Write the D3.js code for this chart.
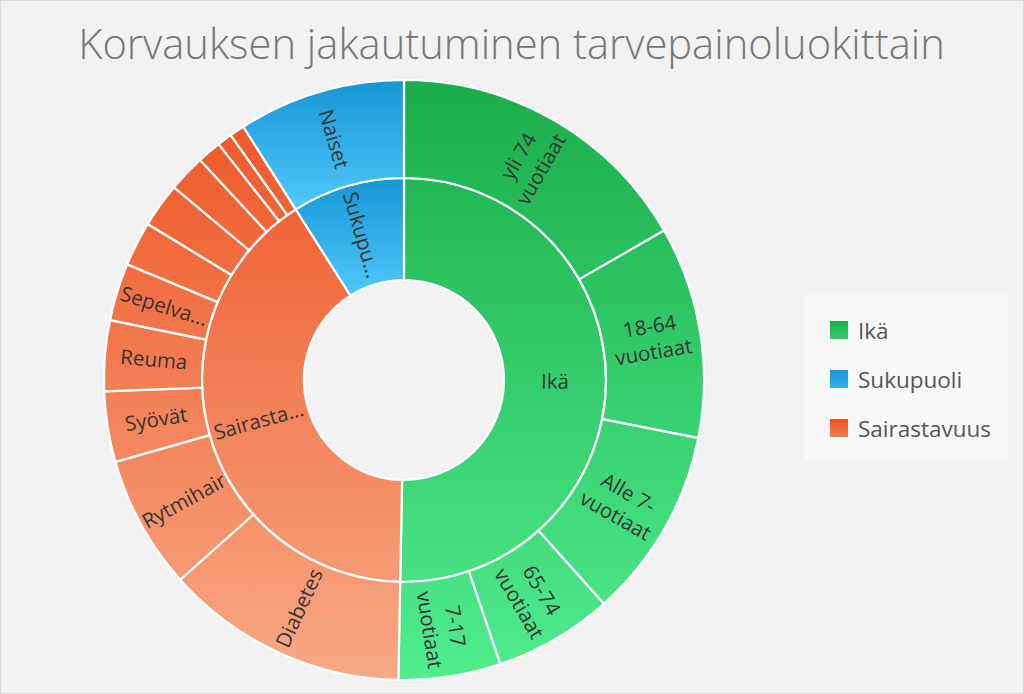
<!DOCTYPE html>
<html>
<head>
<meta charset="utf-8">
<script src="https://cdn.jsdelivr.net/npm/d3@7"></script>
<style>
  html, body { margin: 0; padding: 0; background: #f2f2f2; }
  svg { display: block; }
</style>
</head>
<body>
<svg id="chart" width="1024" height="694"></svg>
<script>
// ---- data ----
const titleText = "Korvauksen jakautuminen tarvepainoluokittain";
const categories = ["Ikä", "Sukupuoli", "Sairastavuus"];

const ikaNames  = ["yli 74 vuotiaat", "18-64 vuotiaat", "Alle 7-vuotiaat", "65-74 vuotiaat", "7-17 vuotiaat"];
const ikaValues = [16.7, 11.4, 10.3, 6.4, 5.5];

const sukupuoliNames  = ["Naiset"];
const sukupuoliValues = [9.0];

const sairasNames  = ["Diabetes", "Rytmihair", "Syövät", "Reuma", "Sepelvaltimotauti",
                      "Astma", "Epilepsia", "Psykoosit", "Parkinsonin tauti", "MS-tauti", "Glaukooma"];
const sairasValues = [13.1, 7.2, 3.8, 3.8, 3.1, 2.4, 2.4, 2.0, 1.3, 0.8, 0.8];

// ---- styles ----
const colors = {
  "Ikä":          { top: "#1aad4b", bottom: "#50ec8e", mid: "#35cc6c", mode: "global" },
  "Sukupuoli":    { top: "#1796d6", bottom: "#4fc8fa", mid: "#33afe8", mode: "box" },
  "Sairastavuus": { top: "#ee5222", bottom: "#f7a985", mid: "#f27d52", mode: "global" }
};

const W = 1024, H = 694;
const cx = 404, cy = 380;
const labelFont = "'Open Sans', 'Noto Sans', sans-serif";
const labelSize = 20.5;
const labelMaxW = 94;
const lineH = 26;

const svg = d3.select("#chart");
svg.append("rect").attr("x", 0.5).attr("y", 0.5).attr("width", W - 1).attr("height", H - 1)
  .attr("fill", "#f2f2f2").attr("stroke", "#dcdcdc");

const defs = svg.append("defs");
function slug(s) { return s.replace(/[^a-zA-Z]/g, "x"); }
categories.forEach(c => {
  const col = colors[c];
  const g = defs.append("linearGradient").attr("id", "g-" + slug(c))
    .attr("x1", 0).attr("x2", 0);
  if (col.mode === "global") {
    g.attr("gradientUnits", "userSpaceOnUse").attr("y1", -300).attr("y2", 300);
  } else {
    g.attr("y1", 0).attr("y2", 1);
  }
  g.append("stop").attr("offset", 0).attr("stop-color", col.top);
  g.append("stop").attr("offset", 1).attr("stop-color", col.bottom);
  const s = defs.append("linearGradient").attr("id", "s-" + slug(c))
    .attr("x1", 0).attr("x2", 0).attr("y1", 0).attr("y2", 1);
  s.append("stop").attr("offset", 0).attr("stop-color", col.top);
  s.append("stop").attr("offset", 1).attr("stop-color", col.mid);
});

// ---- hierarchy ----
const childSets = {
  "Ikä": [ikaNames, ikaValues],
  "Sukupuoli": [sukupuoliNames, sukupuoliValues],
  "Sairastavuus": [sairasNames, sairasValues]
};
const rootData = {
  name: "root",
  children: categories.map(c => ({
    name: c,
    children: childSets[c][0].map((n, i) => ({ name: n, value: childSets[c][1][i] }))
  }))
};
const root = d3.hierarchy(rootData)
  .sum(d => d.value || 0)
  .sort((a, b) => b.value - a.value);
d3.partition().size([2 * Math.PI, 3])(root);

const rScale = d3.scaleLinear().domain([1, 2, 3]).range([100, 202, 300]);
const arc = d3.arc()
  .startAngle(d => d.x0).endAngle(d => d.x1)
  .innerRadius(d => rScale(d.y0)).outerRadius(d => rScale(d.y1));

const g = svg.append("g").attr("transform", `translate(${cx},${cy})`);
const nodes = root.descendants().filter(d => d.depth > 0);
const topCat = d => d.depth === 1 ? d.data.name : d.parent.data.name;

g.selectAll("path").data(nodes).join("path")
  .attr("d", arc)
  .attr("fill", d => `url(#g-${slug(topCat(d))})`)
  .attr("stroke", "#ffffff")
  .attr("stroke-width", 2.2);

// ---- labels ----
const meas = svg.append("text").attr("font-family", labelFont).attr("font-size", labelSize)
  .attr("visibility", "hidden");
function tw(s) { meas.text(s); return meas.node().getComputedTextLength(); }
function truncate(s) {
  if (tw(s) <= labelMaxW) return s;
  let t = s;
  while (t.length > 1 && tw(t + "...") > labelMaxW) t = t.slice(0, -1);
  return t + "...";
}
function wrap(s) {
  const tokens = s.match(/[^\s-]+-?|-/g) || [s];
  let lines = [], cur = "";
  let pos = 0;
  tokens.forEach(tok => {
    const idx = s.indexOf(tok, pos);
    const hadSpace = idx > pos;
    pos = idx + tok.length;
    const cand = cur === "" ? tok : cur + (hadSpace ? " " : "") + tok;
    if (cur !== "" && tw(cand) > labelMaxW) { lines.push(cur); cur = tok; }
    else cur = cand;
  });
  if (cur !== "") lines.push(cur);
  return lines.map(truncate);
}

const labelNodes = nodes.filter(d => {
  const rm = (rScale(d.y0) + rScale(d.y1)) / 2;
  return (d.x1 - d.x0) * rm > 45;
});
const lbl = g.selectAll("text.lbl").data(labelNodes).join("text")
  .attr("class", "lbl")
  .attr("font-family", labelFont)
  .attr("font-size", labelSize)
  .attr("fill", "#353535")
  .attr("text-anchor", "middle")
  .attr("transform", d => {
    const a = (d.x0 + d.x1) / 2 * 180 / Math.PI;
    const rm = (rScale(d.y0) + rScale(d.y1)) / 2;
    return `rotate(${a - 90}) translate(${rm},0) rotate(${a < 180 ? 0 : 180})`;
  });
lbl.each(function(d) {
  const lines = wrap(d.data.name);
  const t = d3.select(this);
  lines.forEach((ln, i) => {
    t.append("tspan").attr("x", 0)
      .attr("y", (i - (lines.length - 1) / 2) * lineH)
      .attr("dy", "0.35em")
      .text(ln);
  });
});
meas.remove();

// ---- title ----
const title = svg.append("text")
  .attr("x", 511.5).attr("y", 59)
  .attr("text-anchor", "middle")
  .attr("font-family", "'Open Sans', 'Noto Sans', sans-serif")
  .attr("font-weight", 300)
  .attr("font-size", 40)
  .attr("fill", "#777777")
  .text(titleText);
const tw0 = title.node().getComputedTextLength();
title.attr("font-size", 40 * 867 / tw0);

// ---- legend ----
const leg = svg.append("g");
leg.append("rect").attr("x", 804).attr("y", 295).attr("width", 204).attr("height", 166)
  .attr("fill", "#f8f8f8");
const li = leg.selectAll("g.item").data(categories).join("g")
  .attr("class", "item")
  .attr("transform", (d, i) => `translate(830,${321 + i * 49})`);
li.append("rect").attr("width", 18).attr("height", 18)
  .attr("fill", d => `url(#s-${slug(d)})`);
li.append("text").attr("x", 28).attr("y", 18)
  .attr("font-family", "'Open Sans', 'Noto Sans', sans-serif")
  .attr("font-size", 22.5)
  .attr("fill", "#555555")
  .text(d => d);
</script>
</body>
</html>
